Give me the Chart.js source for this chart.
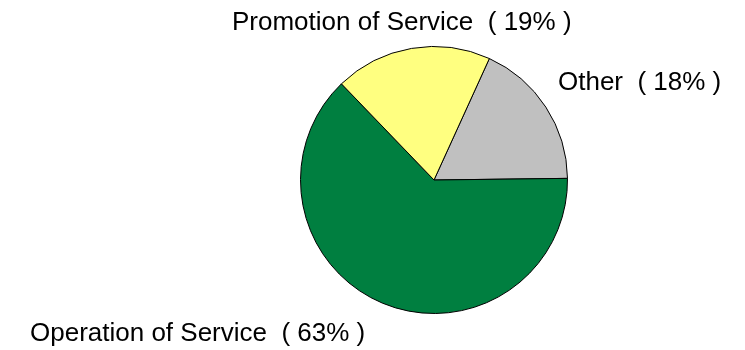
<!DOCTYPE html>
<html lang="en">
<head>
    <meta charset="UTF-8">
    <title>Cost Breakdown</title>
    <style>
        body {
            margin: 0;
            background: #fff;
        }
        .chart-box {
            width: 745px;
            height: 350px;
        }
    </style>
</head>
<body>
<div class="chart-box">
    <canvas id="costChart" width="745" height="350"></canvas>
</div>

<script src="https://cdn.jsdelivr.net/npm/chart.js"></script>
<script>
    // Share of cost by activity (percent)
    const categories = ['Other', 'Operation of Service', 'Promotion of Service'];
    const shares = [18, 63, 19];
    const sliceColors = ['#c0c0c0', '#007f40', '#ffff80'];

    // Where each caption sits on the canvas (left x, baseline y)
    const labelSpots = [
        { x: 558, y: 90 },
        { x: 30, y: 341 },
        { x: 232, y: 30 }
    ];

    // Writes "Name  ( NN% )" captions around the pie
    const outsideLabels = {
        id: 'outsideLabels',
        afterDraw(chart) {
            const ctx = chart.ctx;
            const values = chart.data.datasets[0].data;
            ctx.save();
            ctx.font = '26px "Liberation Sans", Arial, sans-serif';
            ctx.fillStyle = '#000';
            ctx.textAlign = 'left';
            ctx.textBaseline = 'alphabetic';
            chart.data.labels.forEach((name, i) => {
                const spot = labelSpots[i];
                ctx.fillText(name + '  ( ' + values[i] + '% )', spot.x, spot.y);
            });
            ctx.restore();
        }
    };

    const ctx = document.getElementById('costChart').getContext('2d');
    const costChart = new Chart(ctx, {
        type: 'pie',
        data: {
            labels: categories,
            datasets: [{
                data: shares,
                backgroundColor: sliceColors,
                borderColor: '#000',
                borderWidth: 1
            }]
        },
        options: {
            responsive: false,
            animation: false,
            rotation: 24.5,
            layout: {
                padding: { left: 300, right: 177, top: 46, bottom: 36 }
            },
            elements: {
                arc: { borderAlign: 'center' }
            },
            plugins: {
                legend: { display: false },
                tooltip: { enabled: false }
            }
        },
        plugins: [outsideLabels]
    });
</script>
</body>
</html>
